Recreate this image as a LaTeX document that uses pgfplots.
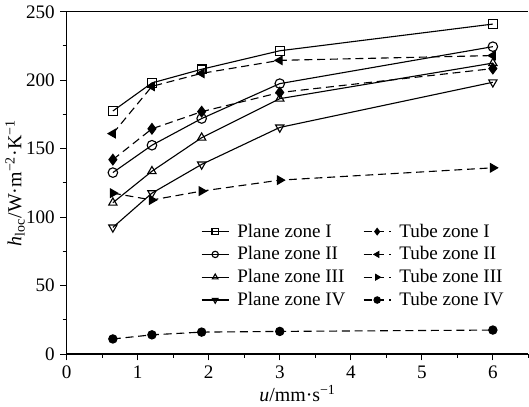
\documentclass[border=0pt]{standalone}
\usepackage{fontspec}
\setmainfont{Liberation Serif}
\usepackage{pgfplots}
\pgfplotsset{compat=1.18}
\usetikzlibrary{plotmarks}

\begin{document}
\begin{tikzpicture}
\begin{axis}[
  scale only axis, width=290pt, height=215pt,
  xmin=0, xmax=6.5, ymin=0, ymax=250,
  axis x line*=box, axis y line*=left,
  xtick={0,1,...,6}, ytick={0,50,...,250},
  minor xtick={0.5,1.5,...,6.5}, minor ytick={25,75,...,225},
  xtick pos=bottom, ytick pos=left,
  tick align=outside, major tick length=4pt, minor tick length=2.5pt,
  every tick/.style={black, line width=0.6pt},
  axis line style={line width=0.8pt},
  /pgf/number format/assume math mode=true,
  ticklabel style={font=\fontsize{12}{12}\selectfont},
  label style={font=\fontsize{12.5}{13}\selectfont},
  xlabel={\textit{u}/mm·s\textsuperscript{−1}},
  ylabel={\textit{h}\textsubscript{loc}/W·m\textsuperscript{−2}·K\textsuperscript{−1}},
  xlabel style={yshift=3pt}, ylabel style={yshift=-6pt},
  legend columns=2,
  legend cell align=left,
  legend style={draw=none, fill=none, at={(0.28,0.40)}, anchor=north west,
    font=\fontsize{12}{12}\selectfont, row sep=0.5pt,
    /tikz/column 1/.style={column sep=3pt},
    /tikz/column 2/.style={column sep=9pt},
    /tikz/column 3/.style={column sep=3pt}},
  legend image post style={black, mark size=2pt},
  every axis plot/.append style={black, line width=0.7pt},
]
% plane zones: solid lines, open marks; tube zones: dashed lines, filled marks
\addplot[solid, mark=square, mark size=2.7pt, mark options={fill=white, solid}] coordinates {(0.65,177.5)(1.2,198)(1.9,208)(3,221.5)(6,241)};
\addlegendentry{Plane zone I}
\addplot[dash pattern=on 5pt off 3pt, mark=diamond*, mark size=3.3pt, mark options={solid, fill=black}] coordinates {(0.65,142)(1.2,164.5)(1.9,177)(3,191)(6,208.5)};
\addlegendentry{Tube zone I}
\addplot[solid, mark=o, mark size=3pt, mark options={fill=white, solid}] coordinates {(0.65,132.5)(1.2,152.5)(1.9,172)(3,197.5)(6,224.5)};
\addlegendentry{Plane zone II}
\addplot[dash pattern=on 5pt off 3pt, mark=triangle*, mark size=3pt, mark options={solid, fill=black, rotate=90}] coordinates {(0.65,161)(1.2,195.5)(1.9,205)(3,214.5)(6,218)};
\addlegendentry{Tube zone II}
\addplot[solid, mark=triangle, mark size=3pt, mark options={fill=white, solid}] coordinates {(0.65,110.5)(1.2,133.5)(1.9,158)(3,186.5)(6,212.5)};
\addlegendentry{Plane zone III}
\addplot[dash pattern=on 5pt off 3pt, mark=triangle*, mark size=3pt, mark options={solid, fill=black, rotate=-90}] coordinates {(0.65,117.5)(1.2,112.5)(1.9,119)(3,127)(6,136)};
\addlegendentry{Tube zone III}
\addplot[solid, mark=triangle, mark size=3pt, mark options={fill=white, solid, rotate=180}] coordinates {(0.65,92.5)(1.2,117.5)(1.9,138.5)(3,165.5)(6,198.5)};
\addlegendentry{Plane zone IV}
\addplot[dash pattern=on 5pt off 3pt, mark=*, mark size=2.6pt, mark options={solid, fill=black}] coordinates {(0.65,11)(1.2,14)(1.9,16)(3,16.5)(6,17.5)};
\addlegendentry{Tube zone IV}
\end{axis}
\end{tikzpicture}
\end{document}
